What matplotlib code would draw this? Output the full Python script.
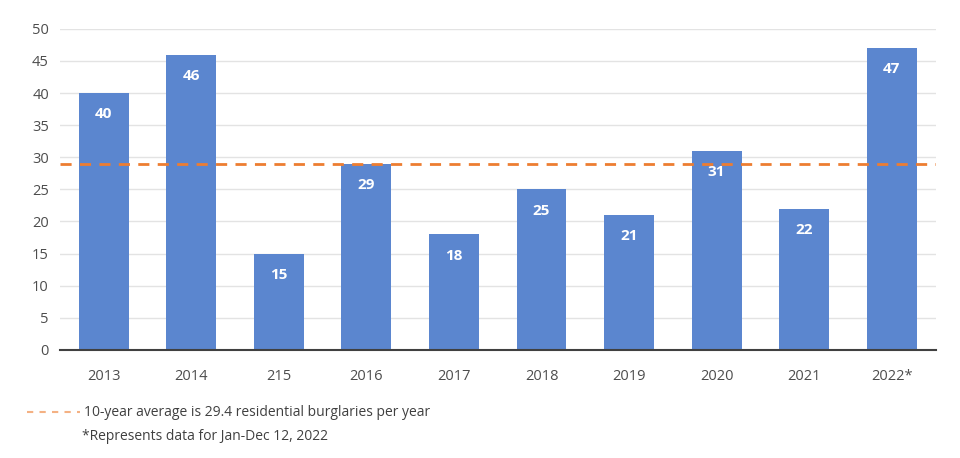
import matplotlib
matplotlib.use("Agg")
import matplotlib.pyplot as plt

plt.rcParams['font.family'] = ['Open Sans', 'DejaVu Sans']

# Данные
years = ["2013", "2014", "215", "2016", "2017", "2018", "2019", "2020", "2021", "2022*"]
burglaries = [40, 46, 15, 29, 18, 25, 21, 31, 22, 47]
average_line = 29.0
note_avg = "10-year average is 29.4 residential burglaries per year"
note_2022 = "*Represents data for Jan-Dec 12, 2022"

fig = plt.figure(figsize=(9.6, 4.58), dpi=100)
ax = fig.add_axes([0.0625, 0.236, 0.912, 0.701])

x = range(len(years))
ax.bar(x, burglaries, width=0.57, color="#5B86CF", zorder=2)
ax.axhline(average_line, color="#ED7D31", linestyle=(0, (4, 3)), linewidth=2, zorder=3)

# Подписи внутри столбцов
for xi, v in zip(x, burglaries):
    ax.text(xi, v - 3.3, str(v), ha="center", va="center", color="white",
            fontsize=11, fontweight="bold", zorder=4)

ax.set_xlim(-0.5, len(years) - 0.5)
ax.set_ylim(0, 50)
ax.set_yticks(range(0, 51, 5))
ax.set_xticks(list(x))
ax.set_xticklabels(years)
ax.grid(axis="y", color="#E3E3E3", linewidth=1, zorder=0)
for s in ["top", "right", "left"]:
    ax.spines[s].set_visible(False)
ax.spines["bottom"].set_color("#404040")
ax.spines["bottom"].set_linewidth(1.5)
ax.tick_params(axis="y", length=0, labelsize=10.5, colors="#4D4D4D", pad=8)
ax.tick_params(axis="x", length=0, labelsize=10.5, colors="#4D4D4D", pad=14)

# Легенда / примечания
fig.lines.append(plt.Line2D([0.028, 0.083], [0.1, 0.1], transform=fig.transFigure,
                            color="#F4B183", linestyle=(0, (3, 3)), linewidth=1.5))
fig.text(0.088, 0.1, note_avg, fontsize=10, color="#404040", va="center")
fig.text(0.085, 0.048, note_2022, fontsize=10, color="#404040", va="center")

fig.savefig("out.png", dpi=100)
